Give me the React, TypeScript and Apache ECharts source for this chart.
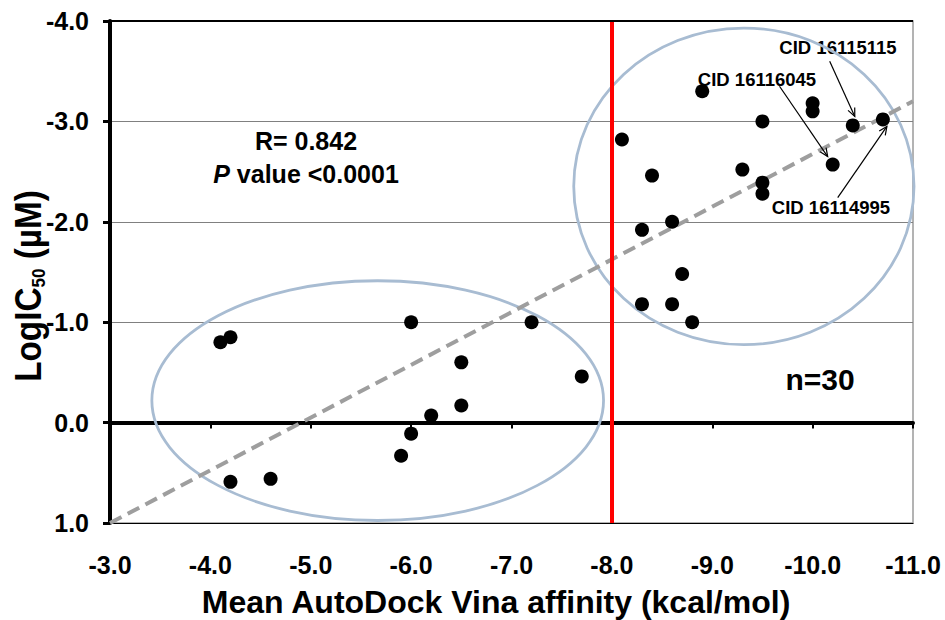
import React, { useEffect, useRef } from "react";
import * as echarts from "echarts";

// ---- Data ----
const affinity = [
  -4.1, -4.2, -4.2, -4.6, -6.0, -7.2, -6.5, -7.7, -6.5, -6.2, -6.0, -5.9,
  -8.9, -10.0, -10.0, -9.5, -10.4, -10.7, -8.1, -8.4, -9.3, -10.2, -9.5, -9.5,
  -8.6, -8.3, -8.7, -8.3, -8.6, -8.8,
];
const logIC50 = [
  -0.8, -0.85, 0.59, 0.56, -1.0, -1.0, -0.6, -0.46, -0.17, -0.07, 0.11, 0.33,
  -3.3, -3.18, -3.1, -3.0, -2.96, -3.02, -2.82, -2.46, -2.52, -2.57, -2.39, -2.28,
  -2.0, -1.92, -1.48, -1.18, -1.18, -1.0,
];
const trendX = [-3.0, -11.0];
const trendY = [1.0, -3.2];
const thresholdX = -8.0;
// cluster ellipses: [centerX, centerY, radiusX, radiusY] in data units
const clusterEllipses = [
  [-5.667, -0.219, 2.25, 1.194],
  [-9.315, -2.353, 1.695, 1.577],
];
const cidLabels = ["CID 16115115", "CID 16116045", "CID 16114995"];
// arrows: [fromX, fromY, toX, toY] in data units
const cidArrows = [
  [-10.17, -3.6, -10.42, -3.05],
  [-9.67, -3.35, -10.15, -2.65],
  [-10.25, -2.24, -10.74, -2.95],
];
const statR = "R= 0.842";
const statP = "<0.0001";
const nLabel = "n=30";
const xTitle = "Mean AutoDock Vina affinity (kcal/mol)";

const FONT = '"Liberation Sans", Arial, Helvetica, sans-serif';

export default function App() {
  const ref = useRef<HTMLDivElement>(null);
  useEffect(() => {
    if (!ref.current) return;
    const chart = echarts.init(ref.current, null, { renderer: "svg" });
    const fmt = (v: number) => v.toFixed(1);
    const option: any = {
      animation: false,
      backgroundColor: "#ffffff",
      textStyle: { fontFamily: FONT },
      grid: {
        left: 110,
        right: 32,
        top: 21,
        bottom: 97,
        show: true,
        borderColor: "#9a9a9a",
        borderWidth: 1.5,
        backgroundColor: "transparent",
      },
      xAxis: [
        {
          type: "value",
          min: -11,
          max: -3,
          interval: 1,
          inverse: true,
          position: "bottom",
          axisLine: { show: true, onZero: false, lineStyle: { color: "#000", width: 1 } },
          axisTick: { show: false },
          splitLine: { show: false },
          axisLabel: {
            formatter: fmt,
            color: "#000",
            fontSize: 25,
            fontWeight: "bold",
            fontFamily: FONT,
            margin: 29,
          },
        },
        {
          type: "value",
          min: -11,
          max: -3,
          interval: 1,
          inverse: true,
          position: "top",
          axisLine: { show: true, onZero: true, lineStyle: { color: "#000", width: 4 } },
          axisTick: { show: true, inside: true, length: 6, lineStyle: { color: "#000", width: 2 } },
          axisLabel: { show: false },
          splitLine: { show: false },
        },
      ],
      yAxis: {
        type: "value",
        min: -4,
        max: 1,
        interval: 1,
        inverse: true,
        axisLine: { show: true, onZero: false, lineStyle: { color: "#000", width: 4 } },
        axisTick: { show: true, length: 7, lineStyle: { color: "#000", width: 3 } },
        splitLine: { show: true, lineStyle: { color: "#808080", width: 1 } },
        axisLabel: {
          formatter: fmt,
          color: "#000",
          fontSize: 25,
          fontWeight: "bold",
          fontFamily: FONT,
          margin: 21,
        },
      },
      series: [
        {
          type: "custom",
          name: "clusters",
          z: 1,
          silent: true,
          encode: { x: 0, y: 1 },
          data: clusterEllipses,
          renderItem: (params: any, api: any) => {
            const c = api.coord([api.value(0), api.value(1)]);
            const s = api.size([api.value(2) * 2, api.value(3) * 2], [api.value(0), api.value(1)]);
            return {
              type: "ellipse",
              shape: { cx: c[0], cy: c[1], rx: Math.abs(s[0]) / 2, ry: Math.abs(s[1]) / 2 },
              style: { fill: "none", stroke: "#a8bcd2", lineWidth: 2.8 },
            };
          },
        },
        {
          type: "line",
          name: "trend",
          z: 3,
          silent: true,
          symbol: "none",
          data: trendX.map((x, i) => [x, trendY[i]]),
          lineStyle: { color: "#9e9e9e", width: 4, type: [13, 7] },
        },
        {
          type: "line",
          name: "refs",
          z: 4,
          silent: true,
          symbol: "none",
          data: [],
          markLine: {
            silent: true,
            symbol: ["none", "none"],
            label: { show: false },
            data: [
              { xAxis: thresholdX, lineStyle: { color: "#ff0000", width: 4, type: "solid" } },
              { yAxis: -4, lineStyle: { color: "#000", width: 2, type: "solid" } },
            ],
          },
        },
        {
          type: "custom",
          name: "arrows",
          z: 5,
          silent: true,
          encode: { x: [0, 2], y: [1, 3] },
          data: cidArrows,
          renderItem: (params: any, api: any) => {
            const p1 = api.coord([api.value(0), api.value(1)]);
            const p2 = api.coord([api.value(2), api.value(3)]);
            const ang = Math.atan2(p2[1] - p1[1], p2[0] - p1[0]);
            const L = 9;
            const a = 0.42;
            const h1 = [p2[0] - L * Math.cos(ang - a), p2[1] - L * Math.sin(ang - a)];
            const h2 = [p2[0] - L * Math.cos(ang + a), p2[1] - L * Math.sin(ang + a)];
            return {
              type: "group",
              children: [
                {
                  type: "line",
                  shape: { x1: p1[0], y1: p1[1], x2: p2[0], y2: p2[1] },
                  style: { stroke: "#000", lineWidth: 1.2 },
                },
                {
                  type: "polyline",
                  shape: { points: [h1, p2, h2] },
                  style: { stroke: "#000", lineWidth: 1.2, fill: "none" },
                },
              ],
            };
          },
        },
        {
          type: "scatter",
          name: "compounds",
          z: 6,
          symbol: "circle",
          symbolSize: 14,
          itemStyle: { color: "#000", opacity: 1 },
          data: affinity.map((x, i) => [x, logIC50[i]]),
        },
      ],
      graphic: [
        {
          type: "text",
          x: 306,
          y: 141,
          style: {
            text: statR,
            fill: "#000",
            fontSize: 25,
            fontWeight: "bold",
            fontFamily: FONT,
            align: "center",
            verticalAlign: "middle",
          },
        },
        {
          type: "text",
          x: 306,
          y: 174,
          style: {
            text: "{i|P}{n| value " + statP + "}",
            align: "center",
            verticalAlign: "middle",
            rich: {
              i: { fontSize: 25, fontWeight: "bold", fontStyle: "italic", fontFamily: FONT, fill: "#000" },
              n: { fontSize: 25, fontWeight: "bold", fontFamily: FONT, fill: "#000" },
            },
          },
        },
        {
          type: "text",
          x: 820,
          y: 379,
          style: {
            text: nLabel,
            fill: "#000",
            fontSize: 30,
            fontWeight: "bold",
            fontFamily: FONT,
            align: "center",
            verticalAlign: "middle",
          },
        },
        {
          type: "text",
          x: 838,
          y: 47,
          style: { text: cidLabels[0], fill: "#000", fontSize: 18.5, fontWeight: "bold", fontFamily: FONT, align: "center", verticalAlign: "middle" },
        },
        {
          type: "text",
          x: 757,
          y: 79,
          style: { text: cidLabels[1], fill: "#000", fontSize: 18.5, fontWeight: "bold", fontFamily: FONT, align: "center", verticalAlign: "middle" },
        },
        {
          type: "text",
          x: 831,
          y: 207,
          style: { text: cidLabels[2], fill: "#000", fontSize: 18.5, fontWeight: "bold", fontFamily: FONT, align: "center", verticalAlign: "middle" },
        },
        {
          type: "text",
          x: 496,
          y: 602,
          style: {
            text: xTitle,
            fill: "#000",
            fontSize: 32,
            fontWeight: "bold",
            fontFamily: FONT,
            align: "center",
            verticalAlign: "middle",
          },
        },
        {
          type: "text",
          x: 28,
          y: 286,
          rotation: Math.PI / 2,
          scaleX: 0.9,
          style: {
            text: "{a|LogIC}{b|50}{a| (µM)}",
            align: "center",
            verticalAlign: "middle",
            rich: {
              a: { fontSize: 37, fontWeight: "bold", fontFamily: FONT, fill: "#000", lineHeight: 40 },
              b: { fontSize: 19, fontWeight: "bold", fontFamily: FONT, fill: "#000", lineHeight: 24, verticalAlign: "bottom" },
            },
          },
        },
      ],
    };
    chart.setOption(option);
    return () => {
      chart.dispose();
    };
  }, []);
  return (
    <div
      ref={ref}
      style={{ position: "absolute", left: 0, top: 0, width: 945, height: 620, background: "#fff" }}
    />
  );
}
